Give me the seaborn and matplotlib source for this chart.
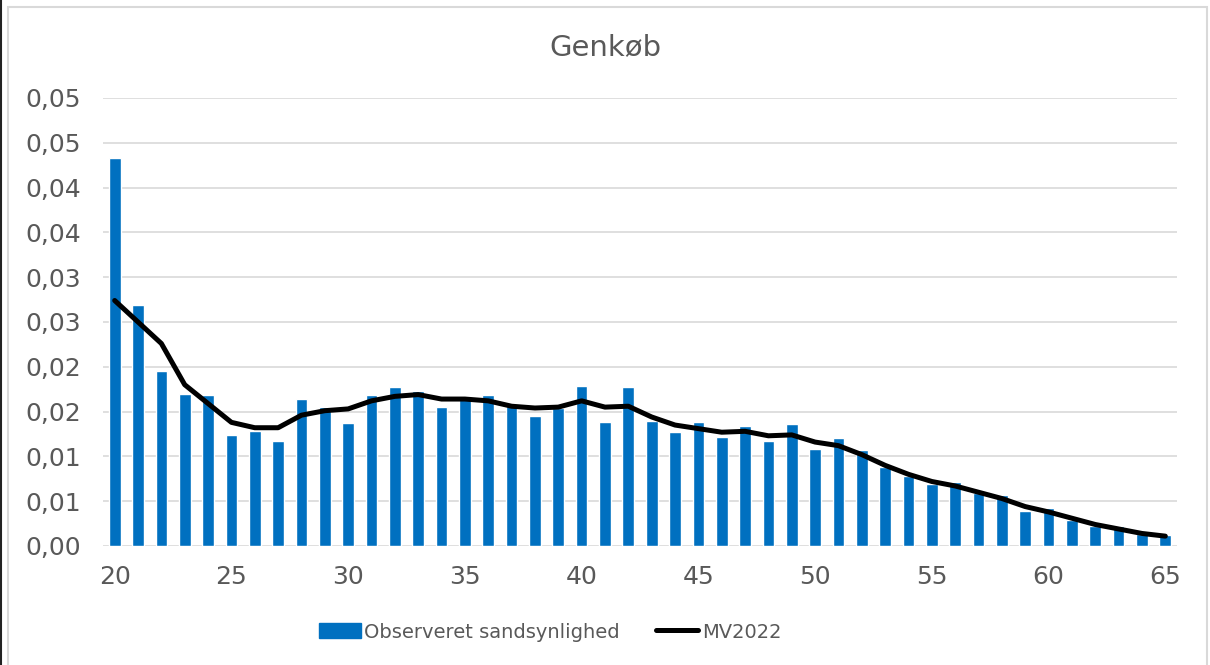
import pandas as pd
import numpy as np
import matplotlib
matplotlib.use("Agg")
import matplotlib.pyplot as plt
import seaborn as sns
from matplotlib.patches import Rectangle
from matplotlib.lines import Line2D

# Data
ages = list(range(20, 66))
observeret = [0.0433, 0.0269, 0.0195, 0.0170, 0.0169, 0.0124, 0.0128, 0.0117,
              0.0164, 0.0155, 0.0137, 0.0169, 0.0177, 0.0173, 0.0155, 0.0164,
              0.0168, 0.0156, 0.0145, 0.0154, 0.0179, 0.0138, 0.0177, 0.0139,
              0.0127, 0.0138, 0.0122, 0.0134, 0.0117, 0.0136, 0.0108, 0.0120,
              0.0107, 0.0088, 0.0078, 0.0069, 0.0071, 0.0059, 0.0057, 0.0039,
              0.0042, 0.0029, 0.0022, 0.0022, 0.0013, 0.0012]
mv2022 = [0.0274, 0.0250, 0.0226, 0.0180, 0.0159, 0.0138, 0.0132, 0.0132,
          0.0146, 0.0151, 0.0153, 0.0162, 0.0167, 0.0169, 0.0164, 0.0164,
          0.0162, 0.0156, 0.0154, 0.0155, 0.0162, 0.0155, 0.0156, 0.0144,
          0.0135, 0.0131, 0.0127, 0.0128, 0.0123, 0.0124, 0.0116, 0.0112,
          0.0102, 0.0090, 0.0080, 0.0072, 0.0067, 0.0060, 0.0053, 0.0044,
          0.0038, 0.0031, 0.0024, 0.0019, 0.0014, 0.0011]
yticks = [0.0, 0.005, 0.01, 0.015, 0.02, 0.025, 0.03, 0.035, 0.04, 0.045, 0.05]
ytick_labels = ["0,00", "0,01", "0,01", "0,02", "0,02", "0,03", "0,03",
                "0,04", "0,04", "0,05", "0,05"]
xticks = [20, 25, 30, 35, 40, 45, 50, 55, 60, 65]

df = pd.DataFrame({"alder": ages, "obs": observeret, "mv": mv2022})

sns.set_theme(style="white")
plt.rcParams["font.family"] = ["DejaVu Sans"]
grey = "#595959"
blue = "#0070C0"

fig = plt.figure(figsize=(12.1, 6.65), dpi=100)
ax = fig.add_axes([103 / 1210, 1 - 546 / 665, (1177 - 103) / 1210, (546 - 98) / 665])

sns.barplot(data=df, x="alder", y="obs", native_scale=True, color=blue,
            saturation=1, width=0.5, ax=ax, zorder=2)
sns.lineplot(data=df, x="alder", y="mv", color="black", lw=3.6, ax=ax,
             zorder=3, solid_capstyle="round")

ax.set_xlim(19.5, 65.5)
ax.set_ylim(0, 0.05)
ax.set_yticks(yticks)
ax.set_yticklabels(ytick_labels)
ax.set_xticks(xticks)
ax.set_xticklabels([str(x) for x in xticks])
ax.tick_params(axis="y", length=0, pad=16, labelsize=18, labelcolor=grey)
ax.tick_params(axis="x", length=0, pad=14, labelsize=18, labelcolor=grey)
ax.set_xlabel("")
ax.set_ylabel("")
ax.yaxis.grid(True, color="#d9d9d9", lw=1.2, zorder=0)
ax.set_axisbelow(True)
for s in ax.spines.values():
    s.set_visible(False)

fig.text(0.5, 1 - 47 / 665, "Genkøb", ha="center", va="center",
         fontsize=21, color=grey)

handles = [Rectangle((0, 0), 1, 1, color=blue),
           Line2D([0], [0], color="black", lw=3.6, solid_capstyle="round")]
leg = fig.legend(handles, ["Observeret sandsynlighed", "MV2022"], loc="center",
                 bbox_to_anchor=(550 / 1210, 1 - 632 / 665), ncol=2, frameon=False,
                 fontsize=14, handlelength=2.15, handleheight=0.77,
                 handletextpad=0.2, columnspacing=1.85)
for t in leg.get_texts():
    t.set_color(grey)

# chart border
fig.patches.append(Rectangle((8 / 1210, -0.01), (1207 - 8) / 1210, 1.01 - 7 / 665,
                             transform=fig.transFigure, fill=False,
                             edgecolor="#d9d9d9", lw=1.5))
fig.lines.append(Line2D([0.5 / 1210, 0.5 / 1210], [0, 1], transform=fig.transFigure,
                        color="#222222", lw=1.5))

fig.savefig("out.png", dpi=100)
